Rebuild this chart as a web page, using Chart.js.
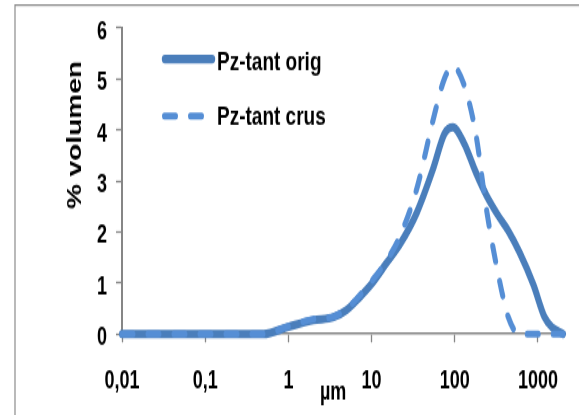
<!DOCTYPE html>
<html>
<head>
<meta charset="utf-8">
<script src="https://cdn.jsdelivr.net/npm/chart.js@4.4.1/dist/chart.umd.min.js"></script>
<style>
	html, body { margin: 0; padding: 0; background: #ffffff; }
	body { width: 579px; height: 415px; }
	/* the source picture is stretched vertically, so draw short and scale up */
	#wrap { width: 579px; height: 296px; transform: scaleY(1.402); transform-origin: 0 0; }
</style>
</head>
<body>
<div id="wrap"><canvas id="chartPreview" width="579" height="296"></canvas></div>
<script>
	'use strict';

	const sizes = [0.01, 0.02, 0.05, 0.1, 0.2, 0.5, 1, 2, 3.5, 5, 7, 10, 15, 22, 35, 55, 75, 95, 130, 180, 240, 330, 440, 600, 880, 1200, 1500, 2000];
	const tantOrig = [0, 0, 0, 0, 0, 0, 0.14, 0.27, 0.33, 0.47, 0.70, 0.98, 1.38, 1.76, 2.38, 3.24, 3.92, 4.05, 3.73, 3.16, 2.72, 2.33, 2.02, 1.6, 0.97, 0.33, 0.12, 0];
	const tantCrus = [0, 0, 0, 0, 0, 0, 0.15, 0.29, 0.34, 0.49, 0.73, 1.03, 1.42, 1.92, 2.85, 4.2, 5.0, 5.24, 4.87, 3.9, 2.45, 1.2, 0.33, 0, 0, 0, 0, 0];
	const seriesNames = ['Pz-tant orig', 'Pz-tant crus'];
	const xTicks = [0.01, 0.1, 1, 10, 100, 1000];
	const xTickLabels = ['0,01', '0,1', '1', '10', '100', '1000'];
	const yTicks = [0, 1, 2, 3, 4, 5, 6];

	const FONT = '"Liberation Sans", Arial, sans-serif';
	const AXIS_GREY = '#868686';

	Chart.defaults.font.family = FONT;
	Chart.defaults.font.weight = 'bold';
	Chart.defaults.color = '#000000';

	// legend, axis titles and outer frame drawn by hand
	const extrasPlugin = {
		id: 'extras',
		beforeDraw(chart) {
			const ctx = chart.ctx;
			ctx.save();
			ctx.strokeStyle = '#8c8c8c';
			ctx.lineWidth = 1.2;
			ctx.beginPath();
			ctx.moveTo(15, 300);
			ctx.lineTo(15, 3.6);
			ctx.lineTo(600, 3.6);
			ctx.stroke();
			ctx.restore();
		},
		afterDraw(chart) {
			const ctx = chart.ctx;
			ctx.save();

			// y title
			ctx.translate(75, 96.3);
			ctx.rotate(-Math.PI / 2);
			ctx.font = 'bold 20px ' + FONT;
			ctx.fillStyle = '#000';
			ctx.textAlign = 'center';
			ctx.textBaseline = 'middle';
			ctx.fillText('% volumen', 0, 0);
			ctx.setTransform(1, 0, 0, 1, 0, 0);

			// x title
			ctx.font = 'bold 18px ' + FONT;
			ctx.textAlign = 'left';
			ctx.textBaseline = 'alphabetic';
			ctx.fillText('µm', 320, 285.3);

			// legend
			const rows = [
				{ y: 42.1, ty: 44.6, x0: 165, x1: 212 },
				{ y: 82.7, ty: 83.5, x0: 164.5, x1: 206.5 }
			];
			chart.data.datasets.forEach(function (ds, i) {
				const r = rows[i];
				ctx.strokeStyle = ds.borderColor;
				ctx.lineWidth = i === 0 ? 6.4 : 5;
				ctx.lineCap = 'round';
				ctx.setLineDash(ds.borderDash || []);
				ctx.beginPath();
				ctx.moveTo(r.x0, r.y);
				ctx.lineTo(r.x1, r.y);
				ctx.stroke();
				ctx.setLineDash([]);
				ctx.font = 'bold 19px ' + FONT;
				ctx.fillStyle = '#000';
				ctx.textBaseline = 'middle';
				ctx.fillText(ds.label, 217, r.ty);
			});
			ctx.restore();
		}
	};

	const chart = new Chart(document.getElementById('chartPreview').getContext('2d'), {
		type: 'line',
		data: {
			datasets: [
				{
					label: seriesNames[0],
					data: sizes.map((x, i) => ({ x: x, y: tantOrig[i] })),
					borderColor: '#4A7EBB',
					borderWidth: 6,
					pointRadius: 0,
					cubicInterpolationMode: 'monotone',
					borderCapStyle: 'round',
					borderJoinStyle: 'round',
					clip: false,
					order: 1
				},
				{
					label: seriesNames[1],
					data: sizes.map((x, i) => ({ x: x, y: tantCrus[i] })),
					borderColor: '#558ED5',
					borderWidth: 5,
					borderDash: [11, 15],
					pointRadius: 0,
					cubicInterpolationMode: 'monotone',
					borderCapStyle: 'round',
					borderJoinStyle: 'round',
					clip: false,
					order: 0
				}
			]
		},
		options: {
			responsive: false,
			animation: false,
			events: [],
			layout: {
				padding: { top: 14.3, right: 16, bottom: 0, left: 0 }
			},
			plugins: {
				legend: { display: false },
				tooltip: { enabled: false }
			},
			scales: {
				x: {
					type: 'logarithmic',
					min: 0.01,
					max: 2000,
					afterBuildTicks: function (scale) {
						scale.ticks = xTicks.map(v => ({ value: v }));
					},
					afterFit: function (scale) {
						scale.height = 57.8;
					},
					ticks: {
						autoSkip: false,
						maxRotation: 0,
						padding: 17.5,
						color: '#000000',
						font: { size: 18, weight: 'bold' },
						callback: (value, index) => xTickLabels[index]
					},
					grid: {
						drawOnChartArea: false,
						tickLength: 6,
						tickColor: AXIS_GREY,
						tickWidth: 1.3
					},
					border: { color: AXIS_GREY, width: 1.6 }
				},
				y: {
					min: 0,
					max: 6,
					afterBuildTicks: function (scale) {
						scale.ticks = yTicks.map(v => ({ value: v }));
					},
					afterFit: function (scale) {
						scale.width = 122;
					},
					ticks: {
						padding: 9,
						labelOffset: 3,
						color: '#000000',
						font: { size: 18, weight: 'bold' }
					},
					grid: {
						drawOnChartArea: false,
						tickLength: 6,
						tickColor: AXIS_GREY,
						tickWidth: 1.3
					},
					border: { color: AXIS_GREY, width: 2 }
				}
			}
		},
		plugins: [extrasPlugin]
	});
</script>
</body>
</html>
